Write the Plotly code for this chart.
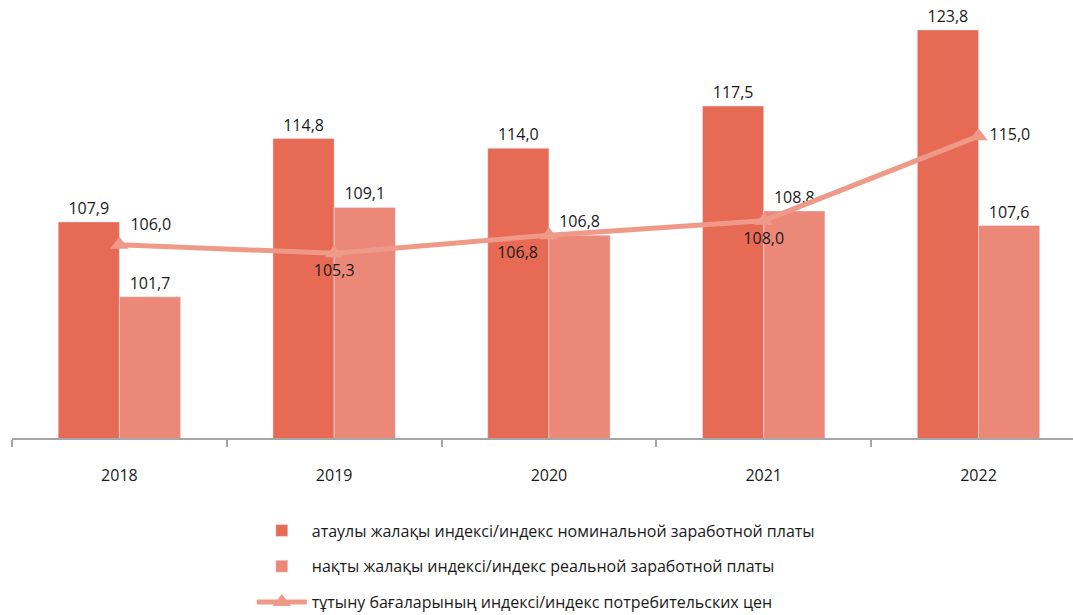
import plotly.graph_objects as go

years = ["2018", "2019", "2020", "2021", "2022"]
nominal = [107.9, 114.8, 114.0, 117.5, 123.8]
real = [101.7, 109.1, 106.8, 108.8, 107.6]
cpi = [106.0, 105.3, 106.8, 108.0, 115.0]

name_nom = "атаулы жалақы индексі/индекс номинальной заработной платы"
name_real = "нақты жалақы индексі/индекс реальной заработной платы"
name_cpi = "тұтыну бағаларының индексі/индекс потребительских цен"


def fmt(vals):
    return [f"{v:.1f}".replace(".", ",") for v in vals]


lbl_font = dict(family="Open Sans, sans-serif", size=16, color="#1a1a1a")

fig = go.Figure()
fig.add_trace(go.Bar(x=years, y=nominal, name=name_nom, marker_color="#E76A55",
                     text=fmt(nominal), textposition="outside", textfont=lbl_font,
                     cliponaxis=False, legendgroup="a"))
fig.add_trace(go.Bar(x=years, y=real, name=name_real, marker_color="#EC8878",
                     text=fmt(real), textposition="outside", textfont=lbl_font,
                     cliponaxis=False, legendgroup="b"))
fig.add_trace(go.Scatter(x=years, y=cpi, name=name_cpi, mode="lines+markers+text",
                         line=dict(color="#EF9A89", width=5),
                         marker=dict(symbol="triangle-up", size=16, color="#EF9A89"),
                         text=fmt(cpi),
                         textposition=["top right", "bottom center", "bottom left",
                                       "bottom center", "middle right"],
                         textfont=lbl_font, cliponaxis=False, legendgroup="c"))

fig.update_layout(
    width=1073, height=615,
    margin=dict(l=12, r=0, t=13, b=177),
    paper_bgcolor="white", plot_bgcolor="white",
    barmode="group", bargap=0.43, bargroupgap=0,
    font=dict(family="Open Sans, sans-serif", color="#1a1a1a"),
    xaxis=dict(range=[-0.5, 4.44], showline=True, linecolor="#a6a6a6", linewidth=2,
               ticks="outside", tickson="boundaries", ticklen=7, tickcolor="#a6a6a6",
               tickwidth=2, tickfont=dict(size=16), ticklabelstandoff=22,
               showgrid=False),
    yaxis=dict(range=[90, 125.2], visible=False),
    legend=dict(x=0.226, y=0.165, xref="paper", yref="container",
                xanchor="left", yanchor="top",
                orientation="v", tracegroupgap=12, itemwidth=50,
                font=dict(size=16)),
)

# page body has a default 8px margin; drop it so the figure sits at 0,0
fig.write_html("out.html", config={"displayModeBar": False},
               post_script="document.body.style.margin='0';")
